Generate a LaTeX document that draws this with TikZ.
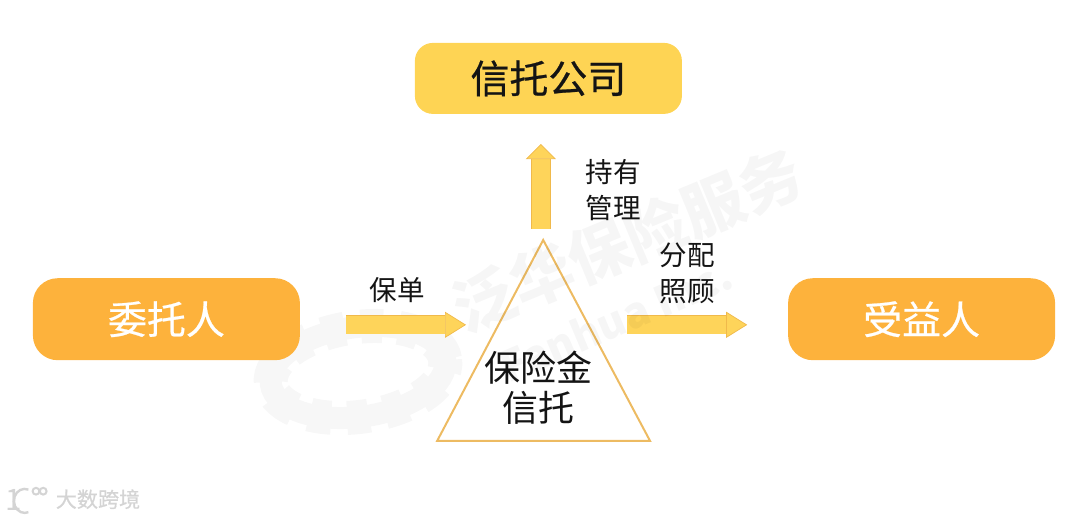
\documentclass[tikz,border=0pt]{standalone}
\usepackage{fontspec}
\setmainfont{Noto Sans CJK SC}
\newfontfamily\medfont[FakeBold=0.6]{Noto Sans CJK SC}
\usetikzlibrary{arrows.meta,calc}
\definecolor{roleGold}{RGB}{254,212,84}
\definecolor{roleAmber}{RGB}{253,178,60}
\definecolor{flowFill}{RGB}{254,212,90}
\definecolor{flowEdge}{RGB}{240,185,75}
\definecolor{triEdge}{RGB}{237,187,98}
\definecolor{inkText}{RGB}{20,20,20}
\definecolor{gearMark}{RGB}{247,247,247}
\definecolor{logoMark}{RGB}{212,212,212}
\tikzset{
    every node/.append style={align=center},
    rolebox/.style={rectangle,minimum width=6.675cm,inner sep=0pt,font=\fontsize{27.7}{32}\selectfont\medfont},
    flowlbl/.style={font=\fontsize{19.6}{25.6}\selectfont,text=inkText,inner sep=0pt},
    flowarr/.style={draw=flowEdge,line width=0.5pt,double=flowFill,double distance=0.44cm},
    flowtip/.style={-{Triangle[length=0.525cm,width=0.65cm,color=flowEdge,fill=flowFill,line width=0.5pt]}},
    watermark/.style={text=black,opacity=0.035,inner sep=0pt},
}
\begin{document}
\begin{tikzpicture}
    \useasboundingbox (0,0) rectangle (27,-12.975);
    \draw[gearMark,line width=0.55cm,rotate around={8:(8.95,-9.3)}] (8.95,-9.3) ellipse (2.2cm and 1.12cm);
    \draw[gearMark,line width=0.85cm,dash pattern=on 0.55cm off 0.4cm,rotate around={8:(8.95,-9.3)}] (8.95,-9.3) ellipse (2.2cm and 1.12cm);

    \node[rolebox,fill=roleGold,rounded corners=0.45cm,minimum height=1.775cm,text=inkText] (trustco) at (13.71,-1.96) {信托公司};
    \node[rolebox,fill=roleAmber,rounded corners=0.62cm,minimum height=2.05cm,text=white] (settlor) at (4.16,-7.98) {委托人};
    \node[rolebox,fill=roleAmber,rounded corners=0.62cm,minimum height=2.05cm,text=white] (benef) at (23.04,-7.98) {受益人};

    \coordinate (apex) at (13.58,-6.0);
    \coordinate (baseL) at (10.93,-11.02);
    \coordinate (baseR) at (16.25,-11.02);
    \draw[triEdge,line width=0.05cm,line join=miter] (apex) -- (baseR) -- (baseL) -- cycle;
    \node[text=inkText,inner sep=0pt,font=\fontsize{25.6}{28.4}\selectfont] (fund) at (13.47,-9.7) {保险金\\信托};

    \coordinate (polA) at (8.65,-8.12);
    \coordinate (polB) at (11.65,-8.12);
    \coordinate (payA) at (15.68,-8.12);
    \coordinate (payB) at (18.68,-8.12);
    \coordinate (holdA) at (13.52,-5.73);
    \coordinate (holdB) at (13.52,-3.6);
    \draw[flowarr,flowtip] (polA) -- (polB);
    \draw[flowarr,flowtip] (payA) -- (payB);
    \draw[flowarr,double distance=0.46cm,-{Triangle[length=0.375cm,width=0.75cm,color=flowEdge,fill=flowFill,line width=0.5pt]}] (holdA) -- (holdB);

    \node[flowlbl] (policy) at (9.93,-7.25) {保单};
    \node[flowlbl] (hold) at (15.33,-4.75) {持有\\管理};
    \node[flowlbl] (pay) at (17.18,-6.83) {分配\\照顾};

    \node[watermark,rotate=22.5,font=\fontsize{44}{48}\selectfont\bfseries] (mark) at (15.68,-6.0) {泛华保险服务};
    \node[watermark,rotate=23,font=\fontsize{30}{34}\selectfont\bfseries] (markEn) at (15.4,-8.0) {Fanhua Inc.};

    \node[text=logoMark,inner sep=0pt,font=\fontsize{15}{18}\selectfont\medfont] (logo) at (2.45,-12.48) {大数跨境};
    \node[text=logoMark,inner sep=0pt,font=\fontsize{21}{22}\selectfont] (logoOne) at (0.33,-12.5) {1};
    \draw[logoMark,line width=0.06cm] (0.71,-12.24) arc (70:290:0.27cm and 0.3cm);
    \draw[logoMark,line width=0.05cm] (0.9,-12.28) circle (0.085cm);
    \draw[logoMark,line width=0.05cm] (1.08,-12.28) circle (0.085cm);
\end{tikzpicture}
\end{document}
